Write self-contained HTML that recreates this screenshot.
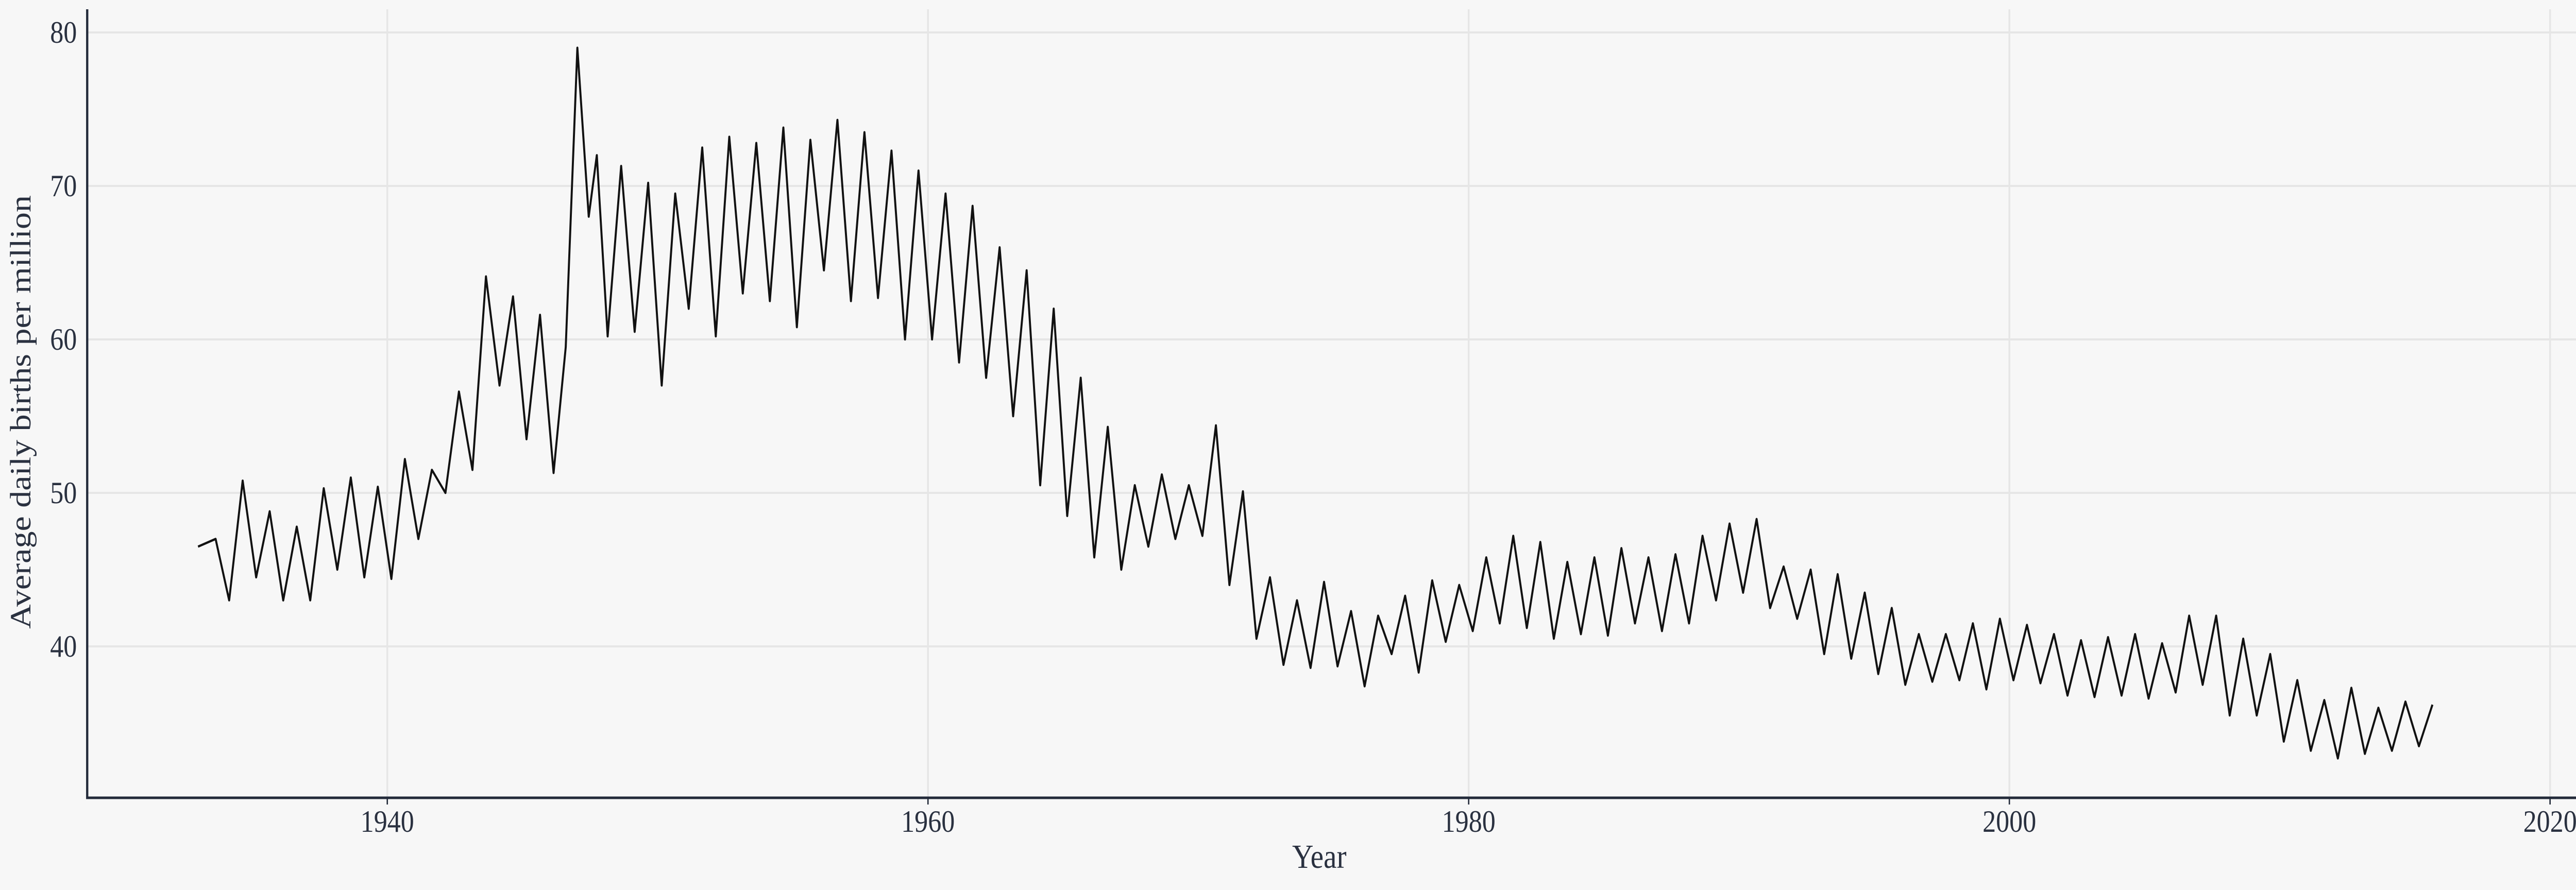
<!DOCTYPE html>
<html><head><meta charset="utf-8"><style>
html,body{margin:0;padding:0;background:#f7f7f7;overflow:hidden;width:100%;height:100%;}
svg{display:block;font-family:"Liberation Serif",serif;width:100vw;height:100vh;}
</style></head><body>
<svg id="chart" viewBox="0 0 5760 1728" preserveAspectRatio="none" xmlns="http://www.w3.org/2000/svg">
<rect x="0" y="0" width="5760" height="1728" fill="#f7f7f7"/>
<g id="grid"></g>
<g id="axes"></g>
<path id="line" fill="none" stroke="#111" stroke-width="4.5" stroke-linejoin="round"/>
<text x="2950" y="1685" font-size="66" fill="#2a3140" text-anchor="middle">Year</text>
<text transform="translate(68,800) rotate(-90)" font-size="66" fill="#2a3140" text-anchor="middle">Average daily births per million</text>
</svg>
<script>
const years=[1933,1934,1935,1936,1937,1938,1939,1940,1941,1942,1943,1944,1945,1946,1947,1948,1949,1950,1951,1952,1953,1954,1955,1956,1957,1958,1959,1960,1961,1962,1963,1964,1965,1966,1967,1968,1969,1970,1971,1972,1973,1974,1975,1976,1977,1978,1979,1980,1981,1982,1983,1984,1985,1986,1987,1988,1989,1990,1991,1992,1993,1994,1995,1996,1997,1998,1999,2000,2001,2002,2003,2004,2005,2006,2007,2008,2009,2010,2011,2012,2013,2014,2015];
const lows=[46.5,43,44.5,43,43,45,44.5,44.4,47,50,51.5,57,53.5,51.3,79,60.2,60.5,57,62,60.2,63,62.5,60.8,64.5,62.5,62.7,60,60,58.5,57.5,55,50.5,48.5,45.8,45,46.5,47,47.2,44,40.5,38.8,38.6,38.7,37.4,39.5,38.3,40.3,41,41.5,41.2,40.5,40.8,40.7,41.5,41,41.5,43,43.5,42.5,41.8,39.5,39.2,38.2,37.5,37.7,37.8,37.2,37.8,37.6,36.8,36.7,36.8,36.6,37,37.5,35.5,35.5,33.8,33.2,32.7,33,33.2,33.5];
const highs=[47,50.8,48.8,47.8,50.3,51,50.4,52.2,51.5,56.6,64.1,62.8,61.6,59.5,72,71.3,70.2,69.5,72.5,73.2,72.8,73.8,73,74.3,73.5,72.3,71,69.5,68.7,66,64.5,62,57.5,54.3,50.5,51.2,50.5,54.4,50.1,44.5,43,44.2,42.3,42,43.3,44.3,44,45.8,47.2,46.8,45.5,45.8,46.4,45.8,46,47.2,48,48.3,45.2,45,44.7,43.5,42.5,40.8,40.8,41.5,41.8,41.4,40.8,40.4,40.6,40.8,40.2,42,42,40.5,39.5,37.8,36.5,37.3,36,36.4,36.2];
const xTicks=[1940,1960,1980,2000,2020];
const yTicks=[40,50,60,70,80];
const X=t=>866+(t-1940)*60.45;
const Y=v=>63+(80-v)*29.8;
const NS="http://www.w3.org/2000/svg";
const grid=document.getElementById('grid'),axes=document.getElementById('axes');
function mk(tag,attrs,parent){const e=document.createElementNS(NS,tag);for(const k in attrs)e.setAttribute(k,attrs[k]);parent.appendChild(e);return e;}
xTicks.forEach(t=>{
 const g=mk('line',{x1:X(t),x2:X(t),y1:18,y2:1548,stroke:'#e6e6e6','stroke-width':4},grid);
 
 
 const tk=mk('line',{x1:X(t),x2:X(t),y1:1548,y2:1562,stroke:'#232b3a','stroke-width':3},axes);
 
 
 const tx=mk('text',{x:X(t),y:1615,'font-size':60,fill:'#2a3140','text-anchor':'middle'},axes);
 tx.textContent=t;
 
 
});
yTicks.forEach(v=>{
 const g=mk('line',{x1:195,x2:5760,y1:Y(v),y2:Y(v),stroke:'#e6e6e6','stroke-width':4},grid);
 
 
 const tx=mk('text',{x:172,y:Y(v)+20,'font-size':60,fill:'#2a3140','text-anchor':'end'},axes);
 tx.textContent=v;
 
 
});
const ax=mk('path',{d:'M195,18 V1549 H5760',fill:'none',stroke:'#232b3a','stroke-width':5},axes);


let pts=[];
years.forEach((y,i)=>{
 if(y===1947){
  pts.push([y+0.03,lows[i]]);pts.push([y+0.45,68]);pts.push([y+0.75,highs[i]]);
 } else {
  pts.push([y+(i===0?0.0:0.15),lows[i]]);
  pts.push([y+(y===1946?0.6:0.65),highs[i]]);
 }
});
document.getElementById('line').setAttribute('d',pts.map((p,i)=>(i?'L':'M')+X(p[0]).toFixed(1)+','+Y(p[1]).toFixed(1)).join(''));
</script>
</body></html>
